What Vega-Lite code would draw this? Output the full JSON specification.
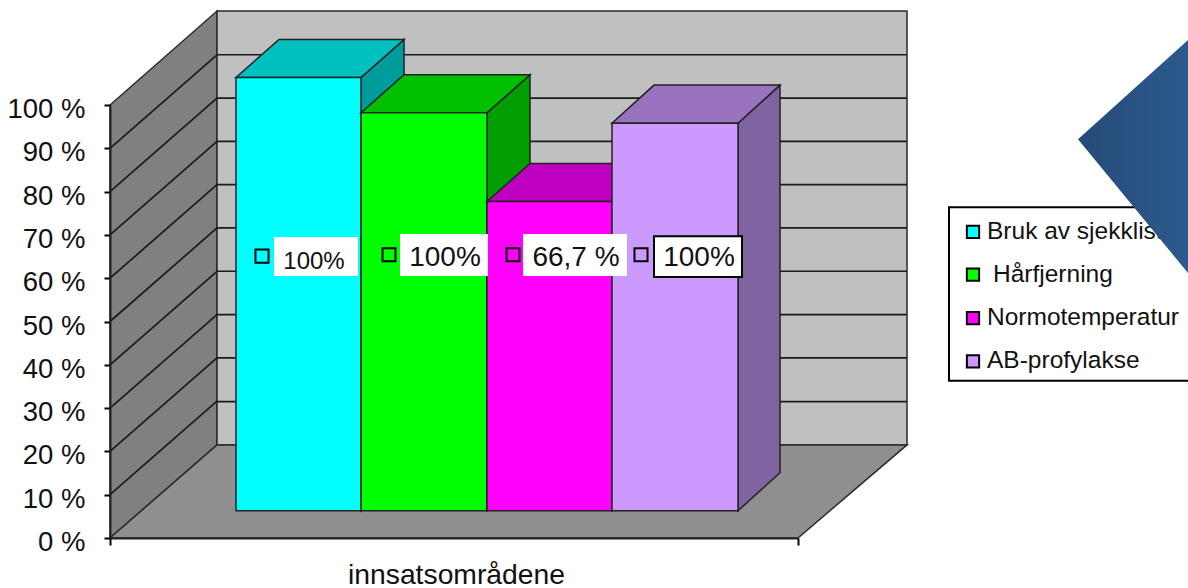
{"$schema":"https://vega.github.io/schema/vega-lite/v6.json","width":688,"height":433,"autosize":"none","padding":{"left":110,"top":105,"right":390,"bottom":50},"background":"white","config":{"view":{"stroke":null}},
"datasets":{
"walls":[
{"face":"Side wall","x":0,"y":0,"y2":100},{"face":"Side wall","x":107,"y":21.5,"y2":121.7},
{"face":"Back wall","x":107,"y":21.5,"y2":121.7},{"face":"Back wall","x":797,"y":21.5,"y2":121.7},
{"face":"Floor","x":0,"y":0,"y2":0},{"face":"Floor","x":107,"y":0,"y2":21.5},{"face":"Floor","x":688,"y":0,"y2":21.5},{"face":"Floor","x":797,"y":21.5,"y2":21.5}],
"gridSide":[{"x":0,"x2":107,"y":10,"y2":31.6},{"x":0,"x2":107,"y":20,"y2":41.6},{"x":0,"x2":107,"y":30,"y2":51.6},{"x":0,"x2":107,"y":40,"y2":61.6},{"x":0,"x2":107,"y":50,"y2":71.6},{"x":0,"x2":107,"y":60,"y2":81.6},{"x":0,"x2":107,"y":70,"y2":91.6},{"x":0,"x2":107,"y":80,"y2":101.6},{"x":0,"x2":107,"y":90,"y2":111.6},
{"x":107,"x2":797,"y":31.5,"y2":31.5},{"x":107,"x2":797,"y":41.6,"y2":41.6},{"x":107,"x2":797,"y":51.6,"y2":51.6},{"x":107,"x2":797,"y":61.6,"y2":61.6},{"x":107,"x2":797,"y":71.6,"y2":71.6},{"x":107,"x2":797,"y":81.6,"y2":81.6},{"x":107,"x2":797,"y":91.6,"y2":91.6},{"x":107,"x2":797,"y":101.6,"y2":101.6},{"x":107,"x2":797,"y":111.6,"y2":111.6}],
"bars":[
{"face":"Bruk side","x":251,"y":6.3,"y2":106.35},{"face":"Bruk side","x":294,"y":15.08,"y2":115.13},
{"face":"Bruk top","x":126,"y":106.35,"y2":106.35},{"face":"Bruk top","x":169,"y":106.35,"y2":115.13},{"face":"Bruk top","x":251,"y":106.35,"y2":115.13},{"face":"Bruk top","x":294,"y":115.13,"y2":115.13},
{"face":"Bruk av sjekkliste","x":126,"y":6.3,"y2":106.35},{"face":"Bruk av sjekkliste","x":251,"y":6.3,"y2":106.35},
{"face":"Hår side","x":377,"y":6.3,"y2":98.2},{"face":"Hår side","x":420,"y":15.08,"y2":107},
{"face":"Hår top","x":251,"y":98.2,"y2":98.2},{"face":"Hår top","x":294,"y":98.2,"y2":107},{"face":"Hår top","x":377,"y":98.2,"y2":107},{"face":"Hår top","x":420,"y":107,"y2":107},
{"face":"Hårfjerning","x":251,"y":6.3,"y2":98.2},{"face":"Hårfjerning","x":377,"y":6.3,"y2":98.2},
{"face":"Normo side","x":502,"y":6.3,"y2":77.7},{"face":"Normo side","x":545,"y":15.08,"y2":86.5},
{"face":"Normo top","x":377,"y":77.7,"y2":77.7},{"face":"Normo top","x":420,"y":77.7,"y2":86.5},{"face":"Normo top","x":502,"y":77.7,"y2":86.5},{"face":"Normo top","x":545,"y":86.5,"y2":86.5},
{"face":"Normotemperatur","x":377,"y":6.3,"y2":77.7},{"face":"Normotemperatur","x":502,"y":6.3,"y2":77.7},
{"face":"AB side","x":628,"y":6.3,"y2":95.8},{"face":"AB side","x":670,"y":15.08,"y2":104.6},
{"face":"AB top","x":502,"y":95.8,"y2":95.8},{"face":"AB top","x":544,"y":95.8,"y2":104.6},{"face":"AB top","x":628,"y":95.8,"y2":104.6},{"face":"AB top","x":670,"y":104.6,"y2":104.6},
{"face":"AB-profylakse","x":502,"y":6.3,"y2":95.8},{"face":"AB-profylakse","x":628,"y":6.3,"y2":95.8}],
"labels":[
{"face":"Bruk av sjekkliste","text":"100%","x0":164,"x1":248,"y0":60.5,"y1":69.5,"mx":152,"my":65.1,"tx":204,"ty":63.8},
{"face":"Hårfjerning","text":"100%","x0":290,"x1":378,"y0":60.5,"y1":70.2,"mx":279,"my":65.4,"tx":335,"ty":64.7},
{"face":"Normotemperatur","text":"66,7 %","x0":413,"x1":517,"y0":60.5,"y1":70.2,"mx":403,"my":65.4,"tx":466,"ty":64.7},
{"face":"AB-profylakse","text":"100%","x0":544,"x1":632,"y0":60.3,"y1":69.7,"mx":531,"my":65.4,"tx":589,"ty":64.7}],
"legendBox":[{"x0":839,"x1":1090,"y0":36.3,"y1":76.4}],
"legendRows":[
{"face":"Bruk av sjekkliste","name":"Bruk av sjekkliste","sx":863,"tx":877,"y":70.7},
{"face":"Hårfjerning","name":"Hårfjerning","sx":863,"tx":883,"y":60.8},
{"face":"Normotemperatur","name":"Normotemperatur","sx":863,"tx":877,"y":50.8},
{"face":"AB-profylakse","name":"AB-profylakse","sx":863,"tx":877,"y":40.8}],
"diamond":[{"x":968,"y":92.1,"y2":92.1},{"x":1078,"y":61.2,"y2":115}]
},
"layer":[
{"data":{"name":"walls"},"mark":{"type":"area","stroke":"#2a2a2a","strokeWidth":1.5},
"encoding":{"x":{"field":"x","type":"quantitative","scale":{"domain":[0,688],"nice":false,"zero":false},"axis":{"values":[0,688],"labels":false,"grid":false,"domain":true,"domainColor":"#222","domainWidth":2,"ticks":true,"tickColor":"black","tickWidth":2,"tickSize":7,"title":"innsatsområdene","titleFont":"Liberation Sans","titleFontSize":28.3,"titleFontWeight":"normal","titleColor":"#111","titlePadding":15,"titleX":346,"zindex":1}},
"y":{"field":"y","type":"quantitative","stack":null,"scale":{"domain":[0,100],"nice":false,"zero":false},"axis":{"values":[0,10,20,30,40,50,60,70,80,90,100],"labelExpr":"datum.value + ' %'","labelFont":"Liberation Sans","labelFontSize":27.5,"labelColor":"#111","labelPadding":19,"labelOffset":4.5,"grid":false,"domainColor":"#222","domainWidth":2,"tickColor":"black","tickWidth":2,"tickSize":6,"title":null,"zindex":1}},
"y2":{"field":"y2"},
"fill":{"field":"face","type":"nominal","legend":null,"scale":{"domain":["Side wall","Back wall","Floor","Bruk side","Bruk top","Bruk av sjekkliste","Hår side","Hår top","Hårfjerning","Normo side","Normo top","Normotemperatur","AB side","AB top","AB-profylakse"],"range":["#808080","#c0c0c0","#8f8f8f","#009c9c","#00c0c0","#00ffff","#009e00","#00c000","#00ff00","#a000a0","#c000c0","#ff00ff","#8064a2","#9a73bf","#cc99ff"]}}}},
{"data":{"name":"gridSide"},"mark":{"type":"rule","color":"#1a1a1a","strokeWidth":1.7},"encoding":{"x":{"field":"x","type":"quantitative"},"x2":{"field":"x2"},"y":{"field":"y","type":"quantitative"},"y2":{"field":"y2"}}},
{"data":{"name":"bars"},"mark":{"type":"area","stroke":"#222222","strokeWidth":1.5},"encoding":{"x":{"field":"x","type":"quantitative"},"y":{"field":"y","type":"quantitative","stack":null},"y2":{"field":"y2"},"fill":{"field":"face","type":"nominal","legend":null}}},
{"data":{"name":"labels"},"mark":{"type":"rect","fill":"white"},"encoding":{"x":{"field":"x0","type":"quantitative"},"x2":{"field":"x1"},"y":{"field":"y0","type":"quantitative"},"y2":{"field":"y1"},"stroke":{"condition":{"test":"datum.face==='AB-profylakse'","value":"black"},"value":null},"strokeWidth":{"value":2}}},
{"data":{"name":"labels"},"mark":{"type":"point","shape":"square","filled":true,"size":170,"stroke":"black","strokeWidth":2,"opacity":1},"encoding":{"x":{"field":"mx","type":"quantitative"},"y":{"field":"my","type":"quantitative"},"fill":{"field":"face","type":"nominal","legend":null}}},
{"data":{"name":"labels"},"mark":{"type":"text","font":"Liberation Sans","align":"center","baseline":"middle","color":"#111"},"encoding":{"x":{"field":"tx","type":"quantitative"},"y":{"field":"ty","type":"quantitative"},"text":{"field":"text"},"size":{"condition":{"test":"datum.face==='Bruk av sjekkliste'","value":24},"value":28}}},
{"data":{"name":"legendBox"},"mark":{"type":"rect","fill":"white","stroke":"black","strokeWidth":2},"encoding":{"x":{"field":"x0","type":"quantitative"},"x2":{"field":"x1"},"y":{"field":"y0","type":"quantitative"},"y2":{"field":"y1"}}},
{"data":{"name":"legendRows"},"mark":{"type":"point","shape":"square","filled":true,"size":150,"stroke":"black","strokeWidth":2,"opacity":1},"encoding":{"x":{"field":"sx","type":"quantitative"},"y":{"field":"y","type":"quantitative"},"fill":{"field":"face","type":"nominal","legend":null}}},
{"data":{"name":"legendRows"},"mark":{"type":"text","font":"Liberation Sans","fontSize":24.5,"align":"left","baseline":"middle","color":"#111"},"encoding":{"x":{"field":"tx","type":"quantitative"},"y":{"field":"y","type":"quantitative"},"text":{"field":"name"}}},
{"data":{"name":"diamond"},"mark":{"type":"area","color":{"gradient":"linear","x1":0,"y1":0,"x2":1,"y2":0,"stops":[{"offset":0,"color":"#264a78"},{"offset":1,"color":"#2c5a8c"}]}},"encoding":{"x":{"field":"x","type":"quantitative"},"y":{"field":"y","type":"quantitative","stack":null},"y2":{"field":"y2"}}}
]}
